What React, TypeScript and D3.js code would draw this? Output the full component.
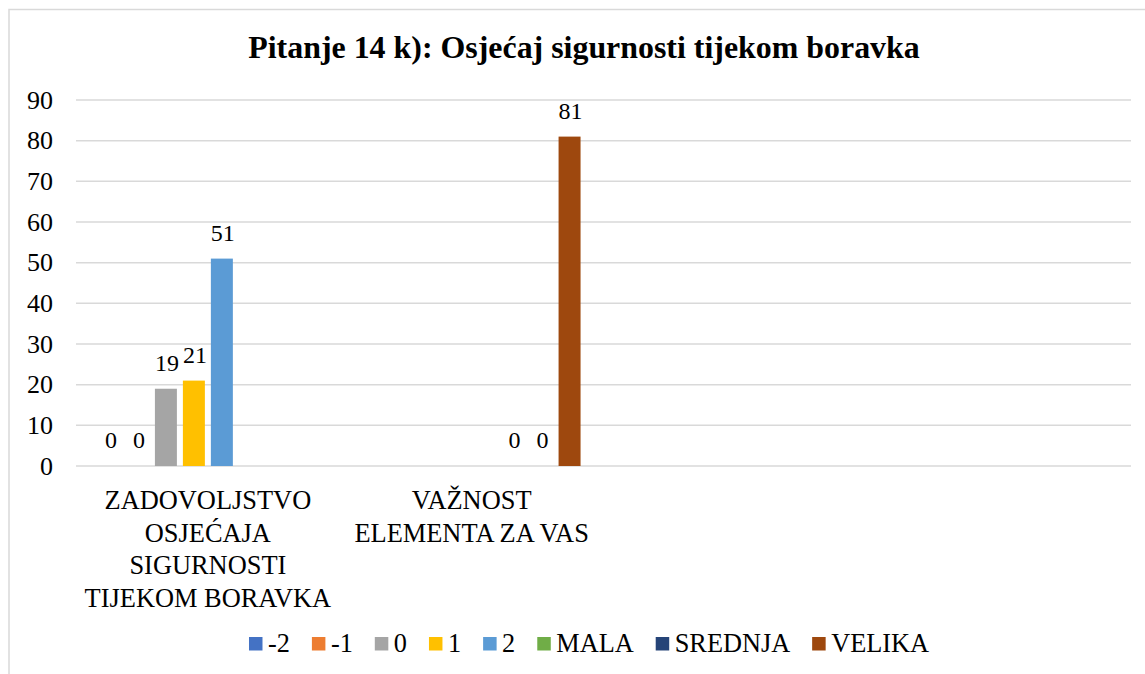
import React, { useEffect, useRef } from "react";
import * as d3 from "d3";

const title = "Pitanje 14 k): Osjećaj sigurnosti tijekom boravka";
const categories = ["cat1", "cat2", "cat3", "cat4"];
const categoryLabelLines: string[][] = [
  ["ZADOVOLJSTVO", "OSJEĆAJA", "SIGURNOSTI", "TIJEKOM BORAVKA"],
  ["VAŽNOST", "ELEMENTA ZA VAS"],
  [],
  [],
];
const seriesNames = ["-2", "-1", "0", "1", "2", "MALA", "SREDNJA", "VELIKA"];
const seriesColors = ["#4472C4", "#ED7D31", "#A5A5A5", "#FFC000", "#5B9BD5", "#70AD47", "#264478", "#9E480E"];
const valuesM2 = [0, null, null, null];
const valuesM1 = [0, null, null, null];
const values0 = [19, null, null, null];
const values1 = [21, null, null, null];
const values2 = [51, null, null, null];
const valuesMala = [null, 0, null, null];
const valuesSrednja = [null, 0, null, null];
const valuesVelika = [null, 81, null, null];
const seriesValues: (number | null)[][] = [valuesM2, valuesM1, values0, values1, values2, valuesMala, valuesSrednja, valuesVelika];
const yTicks = [0, 10, 20, 30, 40, 50, 60, 70, 80, 90];

const FONT = "'Liberation Serif', 'DejaVu Serif', 'Times New Roman', serif";

export default function App() {
  const ref = useRef<SVGSVGElement>(null);

  useEffect(() => {
    const svg = d3.select(ref.current);
    svg.selectAll("*").remove();

    const W = 1145, H = 674;
    const left = 76, right = 1131, top = 100, bottom = 466;

    svg.append("path")
      .attr("d", `M9,${H + 5}V9.5H${W + 5}`)
      .attr("fill", "none").attr("stroke", "#d9d9d9").attr("stroke-width", 1.5);

    const y = d3.scaleLinear().domain([0, 90]).range([bottom, top]);
    const x0 = d3.scaleBand().domain(categories).range([left, right]).padding(0);
    const x1 = d3.scaleBand().domain(seriesNames).range([0, x0.bandwidth()])
      .paddingInner(0.2143).paddingOuter(0.82);

    svg.append("text")
      .attr("x", 584).attr("y", 58)
      .attr("text-anchor", "middle")
      .style("font-family", FONT).style("font-weight", "bold").style("font-size", "31.9px")
      .attr("fill", "#000").text(title);

    svg.append("g").selectAll("line").data(yTicks).join("line")
      .attr("x1", left).attr("x2", right)
      .attr("y1", (d) => y(d)).attr("y2", (d) => y(d))
      .attr("stroke", "#d9d9d9").attr("stroke-width", 1.5);

    svg.append("g").selectAll("text").data(yTicks).join("text")
      .attr("x", 53).attr("y", (d) => y(d) + 8.5)
      .attr("text-anchor", "end")
      .style("font-family", FONT).style("font-size", "26px").attr("fill", "#000")
      .text((d) => String(d));

    seriesNames.forEach((name, si) => {
      const g = svg.append("g");
      const data = categories.map((c, ci) => ({ c, v: seriesValues[si][ci] })).filter((d) => d.v !== null) as { c: string; v: number }[];
      g.selectAll("rect").data(data).join("rect")
        .attr("x", (d) => (x0(d.c) as number) + (x1(name) as number))
        .attr("width", x1.bandwidth())
        .attr("y", (d) => y(d.v))
        .attr("height", (d) => y(0) - y(d.v))
        .attr("fill", seriesColors[si]);
      g.selectAll("text").data(data).join("text")
        .attr("x", (d) => (x0(d.c) as number) + (x1(name) as number) + x1.bandwidth() / 2 + 1)
        .attr("y", (d) => y(d.v) - 18)
        .attr("text-anchor", "middle")
        .style("font-family", FONT).style("font-size", "24px").attr("fill", "#000")
        .text((d) => String(d.v));
    });

    categories.forEach((c, ci) => {
      const cx = (x0(c) as number) + x0.bandwidth() / 2;
      categoryLabelLines[ci].forEach((line, li) => {
        svg.append("text")
          .attr("x", cx).attr("y", 509 + li * 32.6)
          .attr("text-anchor", "middle")
          .style("font-family", FONT).style("font-size", "26.4px").attr("fill", "#000")
          .text(line);
      });
    });

    const lg = svg.append("g");
    let cursor = 0;
    const gap = 22;
    seriesNames.forEach((name, si) => {
      const item = lg.append("g");
      item.append("rect").attr("x", cursor).attr("y", 637).attr("width", 13.5).attr("height", 13.5).attr("fill", seriesColors[si]);
      const t = item.append("text").attr("x", cursor + 19).attr("y", 652)
        .style("font-family", FONT).style("font-size", "26.3px").attr("fill", "#000").text(name);
      const tw = (t.node() as SVGTextElement).getComputedTextLength();
      cursor += 19 + tw + gap;
    });
    const total = cursor - gap;
    lg.attr("transform", `translate(${589 - total / 2},0)`);
  }, []);

  return (
    <svg ref={ref} width={1145} height={674}
      style={{ position: "absolute", left: 0, top: 0, background: "#fff" }} />
  );
}
